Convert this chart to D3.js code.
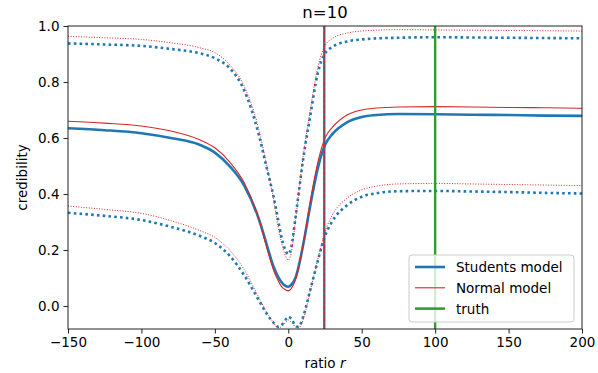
<!DOCTYPE html>
<html>
<head>
<meta charset="utf-8">
<script src="https://cdn.jsdelivr.net/npm/d3@7"></script>
<style>
  body { margin: 0; background: #fff; }
  text { font-family: "DejaVu Sans", sans-serif; fill: #000; }
</style>
</head>
<body>
<script>
// ratio r grid
const ratios = [-150, -125, -100, -80, -60, -50, -40, -30, -20, -15, -10, -7, -5, -2, 0, 2, 5, 7, 10, 15, 20, 25, 30, 40, 50, 60, 75, 100, 125, 150, 175, 200];

// Students model: mean, upper, lower
const studentMean  = [0.635, 0.628, 0.617, 0.600, 0.575, 0.548, 0.500, 0.430, 0.310, 0.225, 0.140, 0.105, 0.088, 0.072, 0.069, 0.076, 0.102, 0.140, 0.215, 0.360, 0.490, 0.575, 0.614, 0.656, 0.675, 0.682, 0.686, 0.685, 0.683, 0.682, 0.680, 0.679];
const studentUpper = [0.938, 0.934, 0.929, 0.918, 0.902, 0.885, 0.850, 0.770, 0.610, 0.500, 0.390, 0.310, 0.255, 0.200, 0.185, 0.210, 0.320, 0.400, 0.520, 0.680, 0.830, 0.902, 0.925, 0.945, 0.952, 0.956, 0.958, 0.960, 0.959, 0.958, 0.957, 0.956];
const studentLower = [0.333, 0.322, 0.307, 0.283, 0.250, 0.225, 0.180, 0.110, 0.020, -0.025, -0.060, -0.074, -0.070, -0.050, -0.038, -0.045, -0.070, -0.074, -0.040, 0.058, 0.160, 0.250, 0.303, 0.360, 0.390, 0.403, 0.410, 0.411, 0.409, 0.407, 0.404, 0.402];

// Normal model: mean, upper, lower
const normalMean  = [0.660, 0.653, 0.643, 0.625, 0.593, 0.565, 0.515, 0.440, 0.310, 0.215, 0.128, 0.092, 0.072, 0.058, 0.054, 0.062, 0.095, 0.135, 0.215, 0.375, 0.510, 0.600, 0.638, 0.682, 0.700, 0.707, 0.711, 0.712, 0.711, 0.709, 0.708, 0.706];
const normalUpper = [0.963, 0.958, 0.952, 0.940, 0.922, 0.905, 0.862, 0.785, 0.630, 0.510, 0.380, 0.285, 0.235, 0.180, 0.164, 0.190, 0.310, 0.400, 0.530, 0.700, 0.850, 0.930, 0.955, 0.975, 0.982, 0.985, 0.987, 0.986, 0.985, 0.984, 0.983, 0.982];
const normalLower = [0.357, 0.345, 0.331, 0.305, 0.269, 0.245, 0.200, 0.130, 0.030, -0.020, -0.060, -0.078, -0.075, -0.060, -0.050, -0.058, -0.075, -0.078, -0.050, 0.055, 0.165, 0.265, 0.325, 0.385, 0.415, 0.428, 0.436, 0.438, 0.436, 0.434, 0.432, 0.430];

const estimateR = 24.5;
const truthR = 100;

const xTicks = [-150, -100, -50, 0, 50, 100, 150, 200];
const yTicks = [0.0, 0.2, 0.4, 0.6, 0.8, 1.0];

const width = 598, height = 373;
const margin = { top: 26, right: 16, bottom: 44, left: 68 };

const x = d3.scaleLinear().domain([-150, 200]).range([margin.left, width - margin.right]);
const y = d3.scaleLinear().domain([-0.082, 1.0]).range([height - margin.bottom, margin.top]);

const svg = d3.select('body').append('svg')
  .attr('width', width)
  .attr('height', height);

svg.append('clipPath').attr('id', 'plot')
  .append('rect')
  .attr('x', margin.left).attr('y', margin.top)
  .attr('width', x.range()[1] - margin.left)
  .attr('height', y.range()[0] - margin.top);

const g = svg.append('g').attr('clip-path', 'url(#plot)');

const line = vals => d3.line()
  .x((d, i) => x(ratios[i]))
  .y(d => y(d))
  .curve(d3.curveMonotoneX)(vals);

const blue = '#1f77b4', red = '#d62728', green = '#2ca02c';

// dotted bands
[studentUpper, studentLower].forEach(v => {
  g.append('path').attr('d', line(v))
    .attr('fill', 'none').attr('stroke', blue)
    .attr('stroke-width', 2.6).attr('stroke-dasharray', '2.6,3.2');
});
[normalUpper, normalLower].forEach(v => {
  g.append('path').attr('d', line(v))
    .attr('fill', 'none').attr('stroke', red)
    .attr('stroke-width', 1).attr('stroke-dasharray', '1,1.6');
});

// means
g.append('path').attr('d', line(studentMean))
  .attr('fill', 'none').attr('stroke', blue).attr('stroke-width', 2.6);
g.append('path').attr('d', line(normalMean))
  .attr('fill', 'none').attr('stroke', red).attr('stroke-width', 1.1);

// vertical markers
g.append('line')
  .attr('x1', x(estimateR)).attr('x2', x(estimateR))
  .attr('y1', margin.top).attr('y2', y.range()[0])
  .attr('stroke', blue).attr('stroke-width', 2.4);
g.append('line')
  .attr('x1', x(estimateR)).attr('x2', x(estimateR))
  .attr('y1', margin.top).attr('y2', y.range()[0])
  .attr('stroke', red).attr('stroke-width', 1).attr('stroke-dasharray', '4,1.6');
g.append('line')
  .attr('x1', x(truthR)).attr('x2', x(truthR))
  .attr('y1', margin.top).attr('y2', y.range()[0])
  .attr('stroke', green).attr('stroke-width', 2.4);

// frame
svg.append('rect')
  .attr('x', margin.left).attr('y', margin.top)
  .attr('width', x.range()[1] - margin.left)
  .attr('height', y.range()[0] - margin.top)
  .attr('fill', 'none').attr('stroke', '#222').attr('stroke-width', 1);

// axes
const gx = svg.append('g')
  .attr('transform', `translate(0,${y.range()[0]})`)
  .call(d3.axisBottom(x).tickValues(xTicks).tickSize(4.5).tickPadding(4)
    .tickFormat(d => d < 0 ? '\u2212' + Math.abs(d) : d));
const gy = svg.append('g')
  .attr('transform', `translate(${margin.left},0)`)
  .call(d3.axisLeft(y).tickValues(yTicks).tickSize(4.5).tickPadding(4).tickFormat(d3.format('.1f')));
[gx, gy].forEach(a => {
  a.select('.domain').remove();
  a.selectAll('.tick line').attr('stroke', '#222');
  a.selectAll('.tick text').attr('font-size', 13.5).attr('font-family', '"DejaVu Sans", sans-serif');
});

// labels
svg.append('text')
  .attr('x', (margin.left + x.range()[1]) / 2).attr('y', 18)
  .attr('text-anchor', 'middle').attr('font-size', 16.5).text('n=10');

const xl = svg.append('text')
  .attr('x', (margin.left + x.range()[1]) / 2).attr('y', 368)
  .attr('text-anchor', 'middle').attr('font-size', 13.5);
xl.append('tspan').text('ratio ');
xl.append('tspan').attr('font-style', 'italic').text('r');

svg.append('text')
  .attr('transform', `translate(27,${(margin.top + y.range()[0]) / 2}) rotate(-90)`)
  .attr('text-anchor', 'middle').attr('font-size', 13.5).text('credibility');

// legend
const legendItems = [
  { label: 'Students model', color: blue, w: 2.6 },
  { label: 'Normal model', color: red, w: 1.1 },
  { label: 'truth', color: green, w: 2.6 }
];
const lg = svg.append('g').attr('transform', 'translate(409,255)');
lg.append('rect')
  .attr('width', 165).attr('height', 67).attr('rx', 3)
  .attr('fill', 'rgba(255,255,255,0.8)').attr('stroke', '#ccc').attr('stroke-width', 1);
legendItems.forEach((d, i) => {
  const yy = 12 + i * 20.8;
  lg.append('line').attr('x1', 6).attr('x2', 36).attr('y1', yy).attr('y2', yy)
    .attr('stroke', d.color).attr('stroke-width', d.w);
  lg.append('text').attr('x', 47).attr('y', yy + 5).attr('font-size', 13.5).text(d.label);
});
</script>
</body>
</html>
